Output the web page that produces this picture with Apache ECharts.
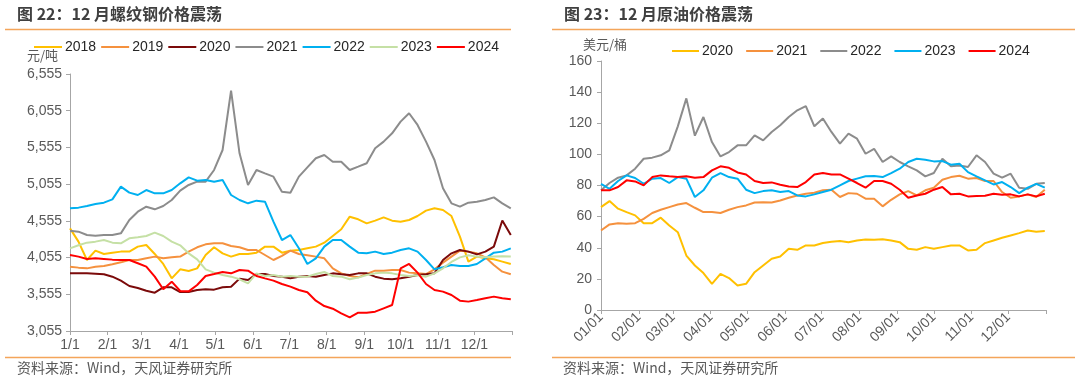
<!DOCTYPE html>
<html>
<head>
<meta charset="utf-8">
<script src="https://cdn.jsdelivr.net/npm/echarts@6/dist/echarts.min.js"></script>
<style>
html,body{margin:0;padding:0;background:#fff;}
#c{width:1080px;height:381px;}
</style>
</head>
<body>
<div id="c"></div>
<script>
// ---------- shared x axis (day of year, weekly samples) ----------
const monthStartDays = [0,31,59,90,120,151,181,212,243,273,304,334,365];
const monthLabelsL = ['1/1','2/1','3/1','4/1','5/1','6/1','7/1','8/1','9/1','10/1','11/1','12/1'];
const monthLabelsR = ['01/01','02/01','03/01','04/01','05/01','06/01','07/01','08/01','09/01','10/01','11/01','12/01'];
const sampleStepDays = 7;

// ---------- left chart: rebar price (元/吨) ----------
const yTicksL = [3055,3555,4055,4555,5055,5555,6055,6555];
const steelYears = ['2018','2019','2020','2021','2022','2023','2024'];
const steelColors = ['#FFC000','#F5913E','#7B0A0A','#8C8C8C','#00B0F0','#C5E0A5','#FF0000'];
const steel2018 = [4453,4272,4022,4149,4104,4122,4136,4136,4204,4226,4104,3968,3772,3895,3872,3908,4090,4195,4113,4068,4104,4104,4122,4204,4204,4122,4149,4158,4181,4204,4258,4349,4440,4612,4576,4521,4558,4603,4558,4544,4567,4621,4694,4726,4703,4621,4340,4000,4068,4045,4031,4000,3968];
const steel2019 = [3931,3918,3908,3931,3940,3963,3990,4022,4022,4045,4068,4045,4058,4068,4136,4195,4235,4249,4249,4213,4195,4158,4158,4090,4022,4077,4149,4104,4086,4068,4045,3908,3840,3804,3786,3831,3877,3877,3886,3886,3850,3840,3831,3895,3986,4068,4149,4136,4113,4058,3954,3863,3827];
const steel2020 = [3840,3840,3840,3836,3827,3795,3741,3668,3641,3604,3577,3650,3650,3586,3586,3613,3622,3618,3650,3659,3768,3750,3831,3831,3804,3795,3772,3795,3804,3795,3818,3840,3827,3818,3840,3840,3795,3768,3759,3772,3795,3818,3827,3840,4022,4113,4158,4136,4099,4136,4204,4560,4363];
const steel2021 = [4421,4408,4362,4353,4362,4362,4385,4567,4680,4748,4712,4757,4839,4966,5044,5089,5089,5248,5520,6330,5475,5044,5248,5202,5157,4953,4939,5157,5284,5407,5452,5361,5361,5248,5293,5339,5543,5634,5747,5906,6020,5861,5634,5384,4998,4794,4748,4803,4816,4839,4875,4794,4726];
const steel2022 = [4726,4735,4757,4785,4803,4848,5021,4939,4907,4975,4930,4930,4975,5066,5148,5102,5112,5089,5112,4907,4839,4794,4830,4816,4544,4294,4362,4181,3968,4045,4204,4294,4294,4204,4122,4113,4136,4104,4122,4158,4181,4136,4022,3895,3922,3954,3940,3940,3968,4045,4122,4136,4181];
const steel2023 = [4181,4222,4258,4272,4294,4258,4249,4317,4331,4349,4394,4349,4272,4222,4113,4031,3895,3850,3818,3795,3759,3704,3840,3804,3818,3795,3804,3795,3795,3831,3859,3804,3795,3759,3782,3818,3840,3850,3840,3818,3804,3813,3795,3840,3909,3995,4058,4086,4068,4058,4068,4072,4068];
const steel2024 = [4090,4068,4036,4045,4036,4027,4022,4022,3977,3931,3795,3623,3727,3600,3595,3682,3804,3831,3859,3840,3886,3877,3804,3772,3741,3695,3659,3613,3582,3468,3395,3359,3296,3241,3305,3305,3318,3364,3409,3908,3968,3850,3695,3613,3591,3545,3468,3455,3477,3500,3523,3500,3486];
const steelSeries = [steel2018,steel2019,steel2020,steel2021,steel2022,steel2023,steel2024];

// ---------- right chart: crude oil (美元/桶) ----------
const oilYears = ['2020','2021','2022','2023','2024'];
const oilColors = ['#FFC000','#F5913E','#8C8C8C','#00B0F0','#FF0000'];
const oil2020 = [66.1,70.0,65.1,62.9,60.8,55.8,55.8,59.3,54.3,50.0,35.0,28.6,23.7,16.8,23.2,20.5,15.8,16.8,24.3,28.6,32.9,34.4,39.3,38.7,41.5,41.5,43.0,43.8,44.3,43.6,44.7,45.3,45.1,45.5,44.7,43.6,39.3,38.7,40.4,39.3,40.4,41.5,41.5,38.3,38.7,43.0,44.7,46.4,47.9,49.4,51.1,50.3,50.7];
const oil2021 = [51.1,55.0,55.8,55.4,55.8,58.6,62.3,64.4,66.1,67.8,68.7,65.7,62.9,62.9,62.3,64.4,66.1,67.2,69.1,69.3,69.1,70.4,72.1,73.6,74.7,75.3,76.9,77.3,72.6,75.1,74.7,71.5,71.5,66.6,70.8,74.3,76.4,73.6,76.9,78.6,83.7,85.4,86.3,84.4,84.8,82.9,82.9,75.8,72.1,73.0,74.3,72.6,77.3];
const oil2022 = [76.9,81.6,85.0,86.5,90.8,97.2,97.9,99.4,102.6,118,136,112,124.0,107.9,98.7,101.5,105.8,105.8,112.2,109.0,114.4,118.7,124.0,128.3,131,118.0,123.0,114.4,106.9,113.3,110.1,100.4,103.6,95.1,98.7,95.1,92.3,89.7,85.9,88.0,97.2,92.3,92.9,91.9,99.4,95.1,87.6,85.0,87.6,78.6,77.9,81.1,81.6];
const oil2023 = [81.1,77.9,82.9,86.5,84.8,81.1,84.4,84.8,81.6,85.4,84.4,72.6,76.9,85.0,88.0,85.4,84.4,77.3,75.1,76.4,76.9,75.8,76.4,73.6,73.0,74.3,75.8,77.3,80.1,82.9,84.4,85.9,86.1,85.4,88.0,90.8,95.1,97.2,96.6,95.5,95.7,93.4,94.0,88.6,85.9,83.3,80.7,82.2,79.0,75.1,78.6,81.1,78.6];
const oil2024 = [76.9,76.9,79.0,83.3,82.6,80.1,85.4,86.5,85.9,85.4,85.9,85.0,85.4,89.7,92.3,91.4,88.4,87.1,82.9,81.6,82.0,80.5,79.4,79.0,82.2,87.1,88.0,87.1,87.1,84.4,81.6,78.6,82.9,82.9,81.1,77.3,72.1,73.6,74.7,77.3,79.0,74.3,74.7,73.0,73.2,73.4,74.7,74.1,74.3,73.0,74.3,73.0,74.7];
const oilSeries = [oil2020,oil2021,oil2022,oil2023,oil2024];

// ---------- build ----------
const FONT = '"Liberation Sans", Arial, "Noto Sans CJK SC", sans-serif';
const CJK = '"Noto Sans CJK SC", "Liberation Sans", sans-serif';
const AXIS_GRAY = '#A6A6A6';
const LABEL_GRAY = '#595959';
const RULE = '#F4A55A';

function toPairs(arr){ return arr.map((v,i)=>[i*sampleStepDays, v]); }

const series = [];
steelYears.forEach((y,i)=>{
  series.push({name:y, type:'line', xAxisIndex:0, yAxisIndex:0, data:toPairs(steelSeries[i]),
    symbol:'none', smooth:false, lineStyle:{width:2, color:steelColors[i]}, itemStyle:{color:steelColors[i]},
    z: 2 + i, animation:false});
});
oilYears.forEach((y,i)=>{
  series.push({name:'R'+y, type:'line', xAxisIndex:1, yAxisIndex:1, data:toPairs(oilSeries[i]),
    symbol:'none', smooth:false, lineStyle:{width:2, color:oilColors[i]}, itemStyle:{color:oilColors[i]},
    z: 2 + i, animation:false});
});

const option = {
  backgroundColor:'#ffffff',
  animation:false,
  grid:[
    {left:70, top:74, width:442, height:257},
    {left:601, top:61, width:445, height:249}
  ],
  xAxis:[
    {type:'value', gridIndex:0, min:0, max:365,
     axisLine:{show:true, lineStyle:{color:AXIS_GRAY, width:1}},
     axisTick:{show:true, length:4, lineStyle:{color:AXIS_GRAY}, customValues:monthStartDays},
     axisLabel:{customValues:monthStartDays.slice(0,12), color:LABEL_GRAY, fontSize:14, fontFamily:FONT, margin:7,
       formatter:(v)=>{const k=monthStartDays.indexOf(v); return k>=0 && k<12 ? monthLabelsL[k] : '';}},
     splitLine:{show:false}},
    {type:'value', gridIndex:1, min:0, max:365,
     axisLine:{show:true, lineStyle:{color:AXIS_GRAY, width:1}},
     axisTick:{show:true, length:4, lineStyle:{color:AXIS_GRAY}, customValues:monthStartDays},
     axisLabel:{customValues:monthStartDays.slice(0,12), color:LABEL_GRAY, fontSize:14, fontFamily:FONT, margin:5, rotate:45,
       formatter:(v)=>{const k=monthStartDays.indexOf(v); return k>=0 && k<12 ? monthLabelsR[k] : '';}},
     splitLine:{show:false}}
  ],
  yAxis:[
    {type:'value', gridIndex:0, min:3055, max:6555,
     axisLine:{show:true, lineStyle:{color:AXIS_GRAY, width:1}},
     axisTick:{show:true, length:4, lineStyle:{color:AXIS_GRAY}, customValues:yTicksL},
     axisLabel:{customValues:yTicksL, color:LABEL_GRAY, fontSize:14, fontFamily:FONT, margin:8,
       formatter:(v)=>v.toLocaleString('en-US')},
     splitLine:{show:false}},
    {type:'value', gridIndex:1, min:0, max:160, interval:20,
     axisLine:{show:true, lineStyle:{color:AXIS_GRAY, width:1}},
     axisTick:{show:true, length:4, lineStyle:{color:AXIS_GRAY}},
     axisLabel:{color:LABEL_GRAY, fontSize:14, fontFamily:FONT, margin:9},
     splitLine:{show:false}}
  ],
  legend:[
    {left:29, top:35, icon:'rect', itemWidth:28, itemHeight:2, itemGap:5,
     textStyle:{fontSize:14, color:'#262626', fontFamily:FONT, padding:[0,0,0,-2]},
     data:steelYears.slice(), selectedMode:false},
    {left:667, top:39, icon:'rect', itemWidth:27, itemHeight:2, itemGap:13,
     textStyle:{fontSize:14, color:'#262626', fontFamily:FONT, padding:[0,0,0,-2]},
     formatter:(n)=>n.slice(1),
     data:oilYears.map(y=>'R'+y), selectedMode:false}
  ],
  graphic:[
    {type:'text', left:17, top:6, style:{text:'图 22：12 月螺纹钢价格震荡', font:'bold 16px '+CJK, fill:'#404040'}},
    {type:'text', left:564, top:6, style:{text:'图 23：12 月原油价格震荡', font:'bold 16px '+CJK, fill:'#404040'}},
    {type:'line', shape:{x1:5,y1:29.5,x2:511,y2:29.5}, style:{stroke:RULE, lineWidth:1.5}},
    {type:'line', shape:{x1:552,y1:29.5,x2:1075,y2:29.5}, style:{stroke:RULE, lineWidth:1.5}},
    {type:'line', shape:{x1:5,y1:357.5,x2:511,y2:357.5}, style:{stroke:RULE, lineWidth:1.5}},
    {type:'line', shape:{x1:552,y1:357.5,x2:1075,y2:357.5}, style:{stroke:RULE, lineWidth:1.5}},
    {type:'text', left:17, top:361, style:{text:'资料来源：Wind，天风证券研究所', font:'14px '+CJK, fill:LABEL_GRAY}},
    {type:'text', left:563, top:361, style:{text:'资料来源：Wind，天风证券研究所', font:'14px '+CJK, fill:LABEL_GRAY}},
    {type:'text', left:27, top:49, style:{text:'元/吨', font:'13px '+CJK, fill:LABEL_GRAY}},
    {type:'text', left:583, top:38, style:{text:'美元/桶', font:'13px '+CJK, fill:LABEL_GRAY}}
  ],
  series: series
};

const chart = echarts.init(document.getElementById('c'), null, {renderer:'canvas'});
chart.setOption(option);
</script>
</body>
</html>
